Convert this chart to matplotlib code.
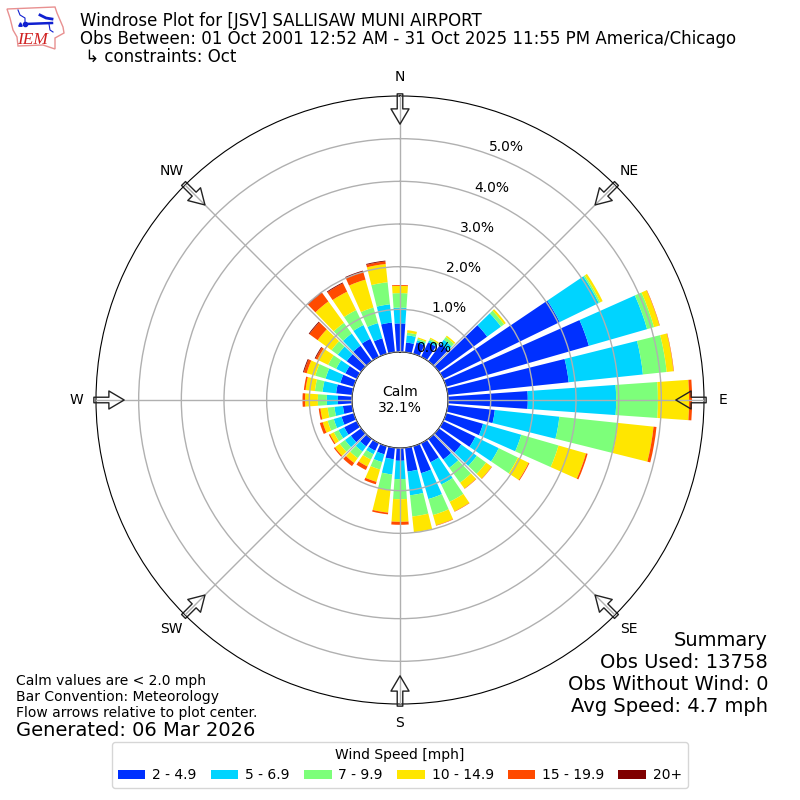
import numpy as np
import matplotlib
matplotlib.use("Agg")
import matplotlib.pyplot as plt
from matplotlib.patches import Polygon

directions = np.arange(0, 360, 10)
# cumulative percent at the top of each speed class, one value per direction
upto_5 = [.67, .23, .28, .38, .50, 1.40, 3.04, 3.48, 2.85, 1.87, 1.11, .90, .84, .65, .60, .50, .66, .56,
          .30, .27, .20, .20, .22, .30, .33, .30, .22, .33, .38, .33, .30, .42, .45, .47, .38, .70]
upto_7 = [1.04, .40, .33, .43, .62, 1.80, 4.06, 4.90, 4.60, 3.94, 2.63, 1.83, 1.45, 1.10, .84, 1.08, 1.29, 1.12,
          .73, .63, .39, .29, .37, .47, .48, .49, .42, .59, .70, .69, .54, .68, .80, .83, .75, 1.13]
upto_10 = [1.38, .46, .37, .47, .70, 1.89, 4.10, 5.07, 5.16, 4.92, 4.01, 2.74, 1.95, 1.37, 1.27, 1.53, 1.68, 1.62,
           1.20, 1.00, .57, .43, .56, .62, .60, .64, .58, .80, .88, .94, .75, .86, 1.11, 1.22, 1.13, 1.65]
upto_15 = [1.55, .52, .40, .50, .74, 1.94, 4.16, 5.20, 5.32, 5.65, 4.85, 3.41, 2.23, 1.53, 1.44, 1.78, 1.93, 1.99,
           1.73, 1.53, .87, .61, .70, .76, .70, .76, .75, 1.10, 1.10, 1.15, 1.03, 1.26, 1.73, 1.70, 1.81, 2.08]
upto_20 = [1.57, .52, .40, .50, .74, 1.94, 4.16, 5.21, 5.33, 5.72, 4.92, 3.45, 2.25, 1.54, 1.45, 1.79, 1.94, 1.99,
           1.80, 1.57, .93, .70, .79, .79, .73, .83, .79, 1.16, 1.14, 1.22, 1.08, 1.50, 1.98, 1.92, 2.00, 2.14]
upto_max = [1.57, .52, .40, .50, .74, 1.94, 4.16, 5.21, 5.33, 5.72, 4.92, 3.45, 2.25, 1.54, 1.45, 1.79, 1.94, 1.99,
            1.80, 1.57, .93, .70, .79, .79, .73, .83, .79, 1.16, 1.14, 1.24, 1.10, 1.52, 2.00, 1.94, 2.03, 2.16]

speed_labels = ["2 - 4.9", "5 - 6.9", "7 - 9.9", "10 - 14.9", "15 - 19.9", "20+"]
speed_colors = ["#0030ff", "#00d4ff", "#7dff7a", "#ffe600", "#ff4a00", "#7f0000"]
compass = ["N", "NE", "E", "SE", "S", "SW", "W", "NW"]
rticks = [0, 1, 2, 3, 4, 5]

fig = plt.figure(figsize=(8, 8), dpi=100)
ax = fig.add_axes([96 / 800, 96 / 800, 608 / 800, 608 / 800], projection="polar")
ax.set_theta_zero_location("N")
ax.set_theta_direction(-1)

# stacked bars
theta = np.deg2rad(directions)
bottom = np.zeros(len(directions))
tops = [upto_5, upto_7, upto_10, upto_15, upto_20, upto_max]
for top, label, color in zip(tops, speed_labels, speed_colors):
    top = np.array(top)
    ax.bar(theta, top - bottom, width=np.deg2rad(8), bottom=bottom, color=color, label=label, zorder=2)
    bottom = top

ax.set_rorigin(-1.125)
ax.set_rmin(0)
ax.set_rmax(6)
ax.set_rlabel_position(20)
ax.set_yticks(rticks)
ax.set_yticklabels(["%.1f%%" % r for r in rticks])
ax.set_thetagrids(np.arange(0, 360, 45), compass)
ax.tick_params(axis="x", pad=3.5)
ax.grid(True, color="#b0b0b0", lw=1, zorder=3)
ax.set_axisbelow(False)

# hollow flow arrows round the edge
for ang in np.arange(0, 360, 45):
    ax.annotate("", xy=(np.deg2rad(ang), 5.34), xytext=(np.deg2rad(ang), 6.05), annotation_clip=False,
                arrowprops=dict(width=4, headwidth=13, headlength=11, shrink=0, facecolor="none",
                                edgecolor="#222222", lw=1))

ax.text(0.5, 0.5, "Calm\n32.1%", transform=ax.transAxes, ha="center", va="center", fontsize=10)

fig.text(80 / 800, 1 - 12 / 800, "Windrose Plot for [JSV] SALLISAW MUNI AIRPORT\n"
         "Obs Between: 01 Oct 2001 12:52 AM - 31 Oct 2025 11:55 PM America/Chicago\n"
         " ↳ constraints: Oct", fontsize=12, va="top", ha="left", linespacing=1.0)
fig.text(16 / 800, 1 - 674 / 800, "Calm values are < 2.0 mph\nBar Convention: Meteorology\n"
         "Flow arrows relative to plot center.", fontsize=10, va="top", ha="left")
fig.text(16 / 800, 1 - 730 / 800, "Generated: 06 Mar 2026", fontsize=14, va="center", ha="left")
fig.text(768 / 800, 1 - 631 / 800, "Summary\nObs Used: 13758\nObs Without Wind: 0\nAvg Speed: 4.7 mph",
         fontsize=14, va="top", ha="right")

handles, labels = ax.get_legend_handles_labels()
fig.legend(handles, labels, title="Wind Speed [mph]", ncol=6, loc="lower center",
           bbox_to_anchor=(0.5, 0.015), borderaxespad=0, fontsize=10, columnspacing=1.0, handletextpad=0.5)

# logo, drawn in pixel coords
logo = fig.add_axes([0, 1 - 56 / 800, 70 / 800, 56 / 800])
logo.set_xlim(0, 70)
logo.set_ylim(56, 0)
logo.axis("off")
outline = [(7, 9), (55, 7), (57, 13), (63, 27), (64, 33), (55, 38), (55, 49), (43, 45), (18, 46), (17, 37), (13, 30),
           (10, 18)]
logo.add_patch(Polygon(outline, closed=True, fill=False, edgecolor="#e89090", lw=1))
logo.plot([25, 52], [24, 23], color="#1020d0", lw=1.8)
logo.plot([18, 20, 25, 25], [10, 15, 18, 24], color="#1020d0", lw=0.8)
logo.plot([25], [24], "o", color="#1020d0", ms=3)
logo.plot([20], [24], "^", color="#1020d0", ms=2.5)
logo.plot([40, 46, 52], [15, 18, 19], color="#1020d0", lw=2)
logo.plot([49, 50, 53], [24, 30, 32], color="#1020d0", lw=0.8)
logo.text(17, 44, "IEM", color="#d02020", fontsize=12.5, family="Liberation Serif", style="italic", va="baseline")

fig.savefig("out.png", dpi=100)
